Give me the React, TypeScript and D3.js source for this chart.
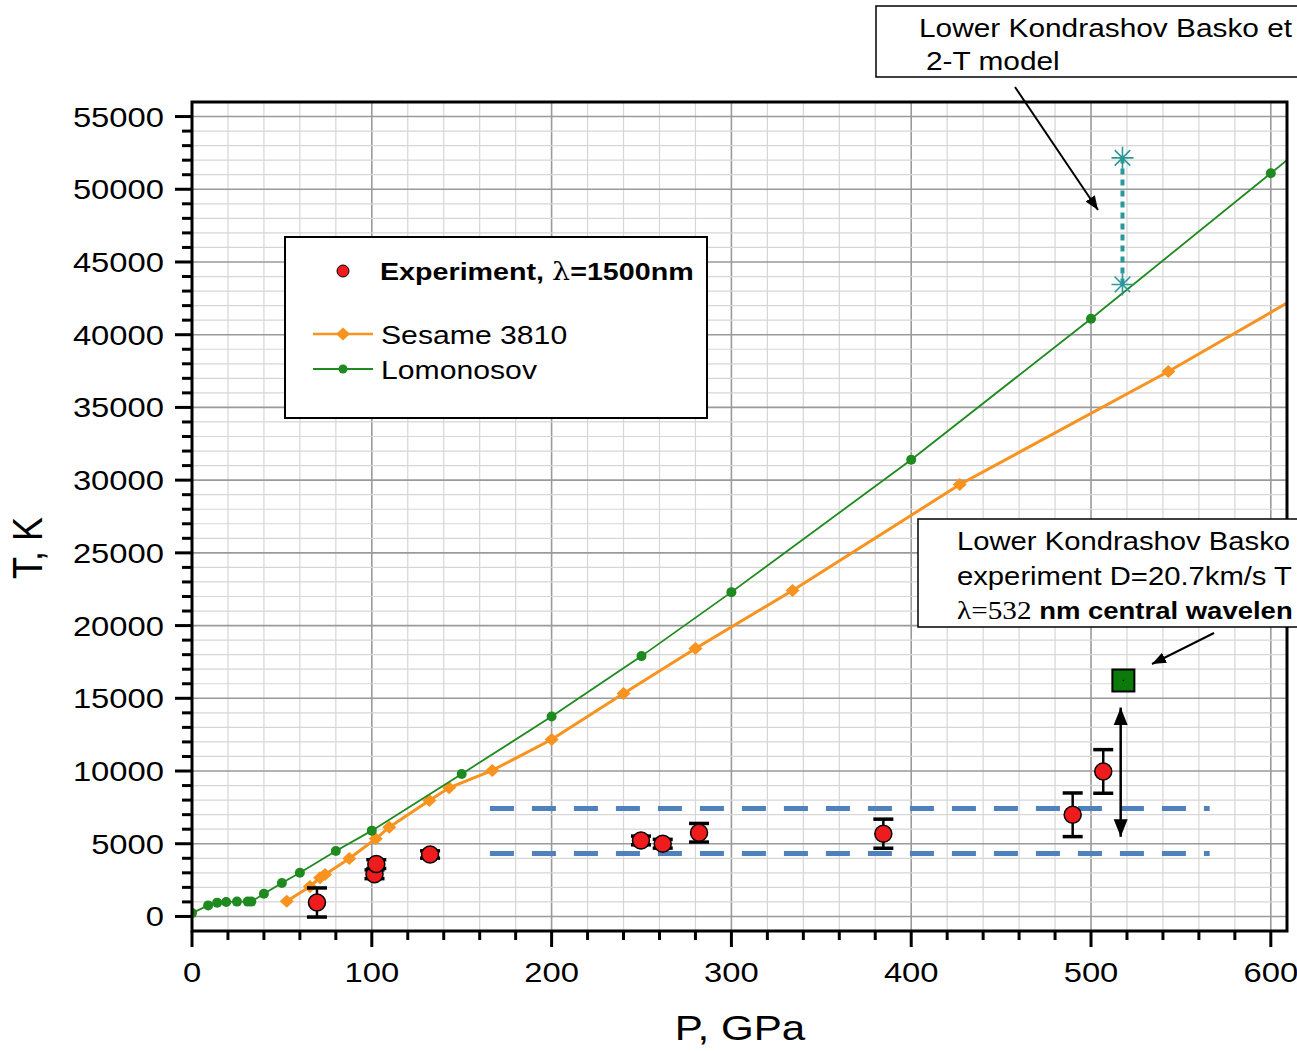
import React from 'react';
import * as d3 from 'd3';

// Lomonosov EOS (green)
const lomonosovP = [0, 9, 14, 19, 25, 31, 33, 40, 50, 60, 80, 100, 150, 200, 250, 300, 400, 500, 600, 700];
const lomonosovT = [230, 760, 950, 1000, 1020, 1020, 1020, 1560, 2300, 3000, 4500, 5900, 9800, 13750, 17900, 22300, 31400, 41100, 51100, 61100];

// Sesame 3810 (orange)
const sesameP = [52.7, 65.6, 71.2, 74, 87.5, 102.2, 109.7, 132, 143, 167, 200, 240, 280, 334, 427, 543, 650];
const sesameT = [1050, 2060, 2660, 2890, 3990, 5340, 6140, 7975, 8850, 10040, 12170, 15330, 18425, 22410, 29700, 37470, 45100];

// experiment, lambda = 1500 nm
const expP = [69.5, 101.5, 102.5, 132.4, 249.7, 261.8, 282, 384.5, 489.8, 506.8];
const expT = [960, 2900, 3600, 4260, 5225, 5000, 5755, 5690, 6990, 9970];
const expErr = [1000, 300, 300, 250, 300, 300, 640, 1000, 1500, 1500];

// Kondrashov / Basko
const modelP = 517.5;
const modelT = [43450, 52160];
const kbExpP = 518;
const kbExpT = 16225;
const bandT = [4330, 7425];
const bandP = [165.7, 566];
const rangeArrowP = 516.5;
const rangeArrowT = [5340, 14500];

const xTicks = [0, 100, 200, 300, 400, 500, 600];
const yTicks = [0, 5000, 10000, 15000, 20000, 25000, 30000, 35000, 40000, 45000, 50000, 55000];

const W = 1297;
const H = 1052;
const left = 192, right = 1287, top = 102, bottom = 931;
const font = "Arial, 'Liberation Sans', sans-serif";
const SX = 1.17; // the original figure is stretched sideways

const GREEN = '#1f8a1f';
const ORANGE = '#f7931e';
const RED = '#ee1c1c';
const TEAL = '#2a9898';
const BLUE = '#4f81bd';

// text stretched horizontally like the source picture
const Txt = ({ x, y, size, anchor = 'start', rotate = 0, weight, children }: any) => (
  <text
    transform={`translate(${x},${y}) scale(${SX},1)${rotate ? ` rotate(${rotate})` : ''}`}
    fontSize={size} textAnchor={anchor} fontWeight={weight}>
    {children}
  </text>
);

export default function App() {
  const x = d3.scaleLinear().domain([0, 609]).range([left, right]);
  const y = d3.scaleLinear().domain([-1000, 56000]).range([bottom, top]);

  const line = d3.line<[number, number]>().x(d => x(d[0])).y(d => y(d[1]));
  const lomo = lomonosovP.map((p, i) => [p, lomonosovT[i]] as [number, number]);
  const ses = sesameP.map((p, i) => [p, sesameT[i]] as [number, number]);

  const minorX = d3.range(0, 610, 20);
  const minorY = d3.range(-1000, 56001, 1000);

  const asterisk = (cx: number, cy: number, r: number) =>
    [0, 45, 90, 135].map(a => {
      const rad = (a * Math.PI) / 180;
      return `M${cx - r * Math.cos(rad)},${cy - r * Math.sin(rad)}L${cx + r * Math.cos(rad)},${cy + r * Math.sin(rad)}`;
    }).join('');

  const diamond = (cx: number, cy: number) => `M${cx},${cy - 6.5}l7,6.5l-7,6.5l-7,-6.5Z`;

  return (
    <div style={{ position: 'absolute', left: 0, top: 0, width: W, height: H, overflow: 'hidden', background: '#fff' }}>
      <svg width={W} height={H} style={{ display: 'block' }} fontFamily={font}>
        <defs>
          <clipPath id="plot">
            <rect x={left} y={top} width={right - left} height={bottom - top} />
          </clipPath>
          <marker id="arr" viewBox="0 0 10 10" refX="10" refY="5" markerWidth="7" markerHeight="7" orient="auto-start-reverse" markerUnits="strokeWidth">
            <path d="M0,1 L10,5 L0,9 Z" fill="#000" />
          </marker>
        </defs>

        {/* grid */}
        <g>
          {minorX.map(v => (
            <line key={'gx' + v} x1={x(v)} x2={x(v)} y1={top} y2={bottom}
              stroke={v % 100 === 0 ? '#9a9a9a' : '#d6d6d6'} strokeWidth={v % 100 === 0 ? 1.6 : 1.2} />
          ))}
          {minorY.map(v => (
            <line key={'gy' + v} x1={left} x2={right} y1={y(v)} y2={y(v)}
              stroke={v % 5000 === 0 ? '#9a9a9a' : '#d6d6d6'} strokeWidth={v % 5000 === 0 ? 1.6 : 1.2} />
          ))}
        </g>

        <g clipPath="url(#plot)">
          {/* band of experiment */}
          {bandT.map(t => (
            <line key={'b' + t} x1={x(bandP[0])} x2={x(bandP[1])} y1={y(t)} y2={y(t)}
              stroke={BLUE} strokeWidth={5} strokeDasharray="24 18" />
          ))}

          {/* Sesame */}
          <path d={line(ses) || ''} fill="none" stroke={ORANGE} strokeWidth={3} />
          {ses.map((d, i) => (
            <path key={'s' + i} d={diamond(x(d[0]), y(d[1]))} fill={ORANGE} />
          ))}

          {/* Lomonosov */}
          <path d={line(lomo) || ''} fill="none" stroke={GREEN} strokeWidth={1.8} />
          {lomo.map((d, i) => (
            <circle key={'l' + i} cx={x(d[0])} cy={y(d[1])} r={5} fill={GREEN} />
          ))}

          {/* model */}
          <line x1={x(modelP)} x2={x(modelP)} y1={y(modelT[0])} y2={y(modelT[1])}
            stroke={TEAL} strokeWidth={4} strokeDasharray="6 5" />
          {modelT.map(t => (
            <path key={'m' + t} d={asterisk(x(modelP), y(t), 11)} stroke={TEAL} strokeWidth={1.6} fill="none" />
          ))}

          {/* experiment */}
          {expP.map((p, i) => {
            const cx = x(p);
            const y1 = y(expT[i] + expErr[i]);
            const y2 = y(expT[i] - expErr[i]);
            return (
              <g key={'e' + i}>
                <line x1={cx} x2={cx} y1={y1} y2={y2} stroke="#000" strokeWidth={2.5} />
                <line x1={cx - 10} x2={cx + 10} y1={y1} y2={y1} stroke="#000" strokeWidth={3.5} />
                <line x1={cx - 10} x2={cx + 10} y1={y2} y2={y2} stroke="#000" strokeWidth={3.5} />
                <circle cx={cx} cy={y(expT[i])} r={8.5} fill={RED} stroke="#000" strokeWidth={1.5} />
              </g>
            );
          })}

          {/* range double arrow */}
          <line x1={x(rangeArrowP)} x2={x(rangeArrowP)} y1={y(rangeArrowT[0]) - 2} y2={y(rangeArrowT[1]) + 2}
            stroke="#000" strokeWidth={2.5} markerStart="url(#arr)" markerEnd="url(#arr)" />

          {/* Kondrashov experiment */}
          <rect x={x(kbExpP) - 11} y={y(kbExpT) - 11} width={22} height={22} fill="#0b7a0b" stroke="#000" strokeWidth={2} />
          <circle cx={x(kbExpP)} cy={y(kbExpT)} r={0.8} fill="#000" />
        </g>

        {/* frame */}
        <rect x={left} y={top} width={right - left} height={bottom - top} fill="none" stroke="#000" strokeWidth={3} />

        {/* x ticks */}
        {minorX.map(v => (
          <line key={'tx' + v} x1={x(v)} x2={x(v)} y1={bottom} y2={bottom + (v % 100 === 0 ? 16 : 9)} stroke="#000" strokeWidth={3} />
        ))}
        {xTicks.map(v => (
          <Txt key={'lx' + v} x={x(v)} y={982} size={28} anchor="middle">{v}</Txt>
        ))}
        {/* y ticks */}
        {d3.range(0, 56000, 1000).map(v => (
          <line key={'ty' + v} x1={left - (v % 5000 === 0 ? 17 : 10)} x2={left} y1={y(v)} y2={y(v)} stroke="#000" strokeWidth={3} />
        ))}
        {yTicks.map(v => (
          <Txt key={'ly' + v} x={164} y={y(v) + 10} size={28} anchor="end">{v}</Txt>
        ))}

        <Txt x={740} y={1040} size={36} anchor="middle">P, GPa</Txt>
        <Txt x={42} y={548} size={36} anchor="middle" rotate={-90}>T, K</Txt>

        {/* legend */}
        <rect x={285} y={237} width={422} height={181} fill="#fff" stroke="#000" strokeWidth={2} />
        <circle cx={343} cy={271} r={6} fill={RED} stroke="#000" strokeWidth={1} />
        <Txt x={380} y={280} size={24.5} weight="bold">Experiment, <tspan fontFamily="'DejaVu Serif', serif" fontWeight="normal">λ</tspan>=1500nm</Txt>
        <line x1={313} x2={373} y1={334} y2={334} stroke={ORANGE} strokeWidth={2.5} />
        <path d={diamond(343, 334)} fill={ORANGE} />
        <Txt x={381} y={344} size={25.8}>Sesame 3810</Txt>
        <line x1={313} x2={373} y1={369} y2={369} stroke={GREEN} strokeWidth={2} />
        <circle cx={343} cy={369} r={4.5} fill={GREEN} />
        <Txt x={381} y={379} size={25.8}>Lomonosov</Txt>

        {/* annotation 1 (box runs past the picture edge) */}
        <rect x={876} y={6} width={440} height={71} fill="#fff" stroke="#000" strokeWidth={1.5} />
        <Txt x={919} y={37} size={25.5}>Lower Kondrashov Basko et</Txt>
        <Txt x={926} y={70} size={25.5}>2-T model</Txt>
        <line x1={1015} x2={1098} y1={87} y2={210} stroke="#000" strokeWidth={2} markerEnd="url(#arr)" />

        {/* annotation 2 */}
        <rect x={918} y={519} width={400} height={108} fill="#fff" stroke="#000" strokeWidth={1.5} />
        <Txt x={957} y={550} size={25}>Lower Kondrashov Basko</Txt>
        <Txt x={957} y={585} size={25}>experiment D=20.7km/s T</Txt>
        <Txt x={957} y={619} size={25}>
          <tspan fontFamily="'Liberation Serif', 'Times New Roman', serif">λ=532</tspan>
          <tspan fontWeight="bold" fontSize={23.5}> nm central wavelen</tspan>
        </Txt>
        <line x1={1214} x2={1152} y1={633} y2={664} stroke="#000" strokeWidth={2} markerEnd="url(#arr)" />
      </svg>
    </div>
  );
}
